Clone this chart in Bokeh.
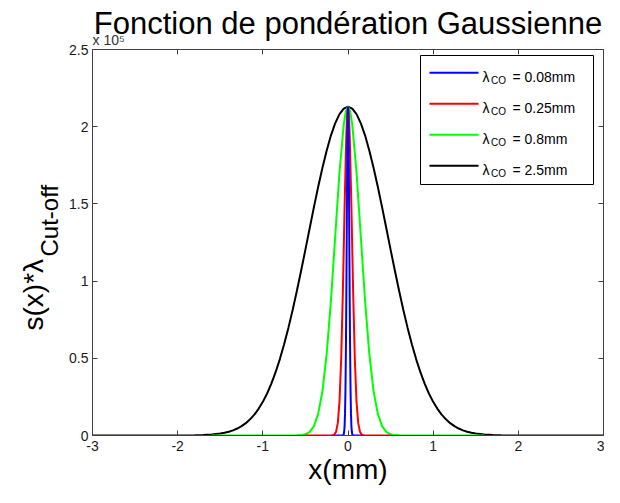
from bokeh.plotting import figure
from bokeh.models import Range1d, LinearAxis, FixedTicker, Label, BoxAnnotation, Arrow, Title
from bokeh.embed import file_html
from bokeh.resources import INLINE

FONT = "Liberation Sans"

# ---------------- texts ----------------
title_text = "Fonction de pondération Gaussienne"
x_label = "x(mm)"
y_label_main = "s(x)*λ"
y_label_sub = "Cut-off"
multiplier_text = "x 10⁵"

# ---------------- ticks ----------------
x_ticks = [-3, -2, -1, 0, 1, 2, 3]
x_tick_labels = ["-3", "-2", "-1", "0", "1", "2", "3"]
y_ticks = [0, 0.5, 1, 1.5, 2, 2.5]
y_tick_labels = ["0", "0.5", "1", "1.5", "2", "2.5"]

# ---------------- legend ----------------
legend_symbol = "λ"
legend_sub = "CO"
legend_values = ["= 0.08mm", "= 0.25mm", "= 0.8mm", "= 2.5mm"]
colors = ["#0000ff", "#ff0000", "#00ff00", "#000000"]

# ---------------- series ----------------
# lambda_c = 0.08 mm
blue_x = [-0.16, -0.06, -0.05, -0.045, -0.04, -0.035, -0.03, -0.025, -0.02, -0.015, -0.01, -0.005,
          0.0,
          0.005, 0.01, 0.015, 0.02, 0.025, 0.03, 0.035, 0.04, 0.045, 0.05, 0.06, 0.16]
blue_y = [0.0, 0.0, 0.008, 0.024, 0.061, 0.14, 0.288, 0.53, 0.875, 1.291, 1.705, 2.014,
          2.129,
          2.014, 1.705, 1.291, 0.875, 0.53, 0.288, 0.14, 0.061, 0.024, 0.008, 0.0, 0.0]

# lambda_c = 0.25 mm
red_x = [-0.5, -0.2, -0.18, -0.16, -0.14, -0.12, -0.10, -0.08, -0.06, -0.04, -0.02, -0.01,
         0.0,
         0.01, 0.02, 0.04, 0.06, 0.08, 0.10, 0.12, 0.14, 0.16, 0.18, 0.2, 0.5]
red_y = [0.0, 0.0, 0.001, 0.006, 0.025, 0.080, 0.218, 0.495, 0.938, 1.479, 1.944, 2.081,
         2.129,
         2.081, 1.944, 1.479, 0.938, 0.495, 0.218, 0.080, 0.025, 0.006, 0.001, 0.0, 0.0]

# lambda_c = 0.8 mm
green_x = [-1.6, -0.6, -0.55, -0.5, -0.45, -0.4, -0.35, -0.3, -0.25, -0.2, -0.15, -0.1, -0.05, -0.025,
           0.0,
           0.025, 0.05, 0.1, 0.15, 0.2, 0.25, 0.3, 0.35, 0.4, 0.45, 0.5, 0.55, 0.6, 1.6]
green_y = [0.0, 0.001, 0.0025, 0.008, 0.024, 0.061, 0.14, 0.288, 0.53, 0.875, 1.291, 1.705, 2.014, 2.100,
           2.129,
           2.100, 2.014, 1.705, 1.291, 0.875, 0.53, 0.288, 0.14, 0.061, 0.024, 0.008, 0.0025, 0.001, 0.0]

# lambda_c = 2.5 mm
black_x = [-3.0, -2.0, -1.9, -1.8, -1.7, -1.6, -1.5, -1.45, -1.4, -1.35, -1.3, -1.25, -1.2, -1.15,
           -1.1, -1.05, -1.0, -0.95, -0.9, -0.85, -0.8, -0.75, -0.7, -0.65, -0.6, -0.55, -0.5,
           -0.45, -0.4, -0.35, -0.3, -0.25, -0.2, -0.15, -0.1, -0.05,
           0.0,
           0.05, 0.1, 0.15, 0.2, 0.25, 0.3, 0.35, 0.4, 0.45, 0.5, 0.55, 0.6, 0.65, 0.7, 0.75,
           0.8, 0.85, 0.9, 0.95, 1.0, 1.05, 1.1, 1.15, 1.2, 1.25, 1.3, 1.35, 1.4, 1.45, 1.5,
           1.6, 1.7, 1.8, 1.9, 2.0, 3.0]
black_y = [0.0, 0.0002, 0.0006, 0.0013, 0.0029, 0.0062, 0.0126, 0.0177, 0.0245, 0.0335, 0.0453,
           0.0605, 0.080, 0.1046, 0.135, 0.173, 0.218, 0.272, 0.336, 0.410, 0.495, 0.591, 0.697,
           0.813, 0.937, 1.069, 1.204, 1.342, 1.479, 1.611, 1.734, 1.846, 1.944, 2.023, 2.081, 2.117,
           2.129,
           2.117, 2.081, 2.023, 1.944, 1.846, 1.734, 1.611, 1.479, 1.342, 1.204, 1.069, 0.937,
           0.813, 0.697, 0.591, 0.495, 0.410, 0.336, 0.272, 0.218, 0.173, 0.135, 0.1046, 0.080,
           0.0605, 0.0453, 0.0335, 0.0245, 0.0177, 0.0126, 0.0062, 0.0029, 0.0013, 0.0006, 0.0002, 0.0]

series_x = [blue_x, red_x, green_x, black_x]
series_y = [blue_y, red_y, green_y, black_y]

# ---------------- figure ----------------
p = figure(width=604, height=487,
           x_range=Range1d(-3, 3), y_range=Range1d(0, 2.5),
           output_backend="svg", toolbar_location=None,
           min_border_left=92, min_border_right=1, min_border_top=49, min_border_bottom=45,
           background_fill_color="white", border_fill_color="white")
p.outline_line_color = None
p.xgrid.visible = False
p.ygrid.visible = False

AXIS_COLOR = "#404040"

xa = p.xaxis[0]
xa.ticker = FixedTicker(ticks=x_ticks)
xa.major_label_overrides = {t: l for t, l in zip(x_ticks, x_tick_labels)}
ya = p.yaxis[0]
ya.ticker = FixedTicker(ticks=y_ticks)
ya.major_label_overrides = {t: l for t, l in zip(y_ticks, y_tick_labels)}

for ax in (xa, ya):
    ax.major_tick_in = 5
    ax.major_tick_out = 0
    ax.minor_tick_line_color = None
    ax.axis_line_color = AXIS_COLOR
    ax.major_tick_line_color = AXIS_COLOR
    ax.major_label_text_font = FONT
    ax.major_label_text_font_size = "14px"
    ax.major_label_text_color = "#1a1a1a"

xa.major_label_standoff = 5
ya.major_label_standoff = 4
xa.axis_label = x_label
xa.axis_label_text_font = FONT
xa.axis_label_text_font_size = "28px"
xa.axis_label_text_font_style = "normal"
xa.axis_label_text_color = "black"
xa.axis_label_standoff = 0

top_ax = LinearAxis(ticker=FixedTicker(ticks=x_ticks),
                    major_label_overrides={t: "" for t in x_ticks})
right_ax = LinearAxis(ticker=FixedTicker(ticks=y_ticks),
                      major_label_overrides={t: "" for t in y_ticks})
for ax in (top_ax, right_ax):
    ax.major_tick_in = 5
    ax.major_tick_out = 0
    ax.minor_tick_line_color = None
    ax.axis_line_color = AXIS_COLOR
    ax.major_tick_line_color = AXIS_COLOR
    ax.major_label_text_font_size = "1px"
    ax.major_label_standoff = 0
p.add_layout(top_ax, "above")
p.add_layout(right_ax, "right")

# exponent multiplier (just above the frame, left aligned)
p.add_layout(Title(text=multiplier_text, align="left", vertical_align="bottom", offset=0,
                   standoff=4, text_font=FONT, text_font_size="14px",
                   text_font_style="normal", text_color="#333333"), "above")

# main title (outermost, overlapping the multiplier row like the original)
p.title.text = title_text
p.title.text_font = FONT
p.title.text_font_size = "31px"
p.title.text_font_style = "normal"
p.title.text_color = "black"
p.title.align = "center"
p.title.vertical_align = "bottom"
p.title.standoff = -26

# y axis label with subscript: subscript panel next to the axis, main text outside
p.add_layout(Title(text=y_label_sub, align="left", vertical_align="top", offset=179,
                   standoff=4, text_font=FONT, text_font_size="24px",
                   text_font_style="normal", text_color="black"), "left")
p.add_layout(Title(text=y_label_main, align="left", vertical_align="bottom", offset=105,
                   standoff=-30, text_font=FONT, text_font_size="28px",
                   text_font_style="normal", text_color="black"), "left")

# curves: black drawn first, blue on top
for i in [3, 2, 1, 0]:
    p.line(series_x[i], series_y[i], line_color=colors[i], line_width=2)

# legend (manual, to allow subscripts), positioned from the frame's top-right corner
W, H = 510, 387
p.add_layout(BoxAnnotation(left=W - 182, right=W - 9, top=H - 7, bottom=H - 136,
                           left_units="screen", right_units="screen",
                           top_units="screen", bottom_units="screen",
                           fill_color="white", fill_alpha=1.0,
                           line_color="black", line_width=1, line_alpha=1.0))
row_offsets = [24.3, 55.3, 86.3, 117.3]
for i, ro in enumerate(row_offsets):
    ry = H - ro
    p.add_layout(Arrow(end=None, x_start=W - 173, y_start=ry, x_end=W - 124, y_end=ry,
                       start_units="screen", end_units="screen",
                       line_color=colors[i], line_width=2))
    p.add_layout(Label(x=W - 120, y=ry - 4.5, x_units="screen", y_units="screen", text=legend_symbol,
                       text_font=FONT, text_font_size="14px", text_color="black",
                       text_baseline="alphabetic"))
    p.add_layout(Label(x=W - 111.5, y=ry - 8, x_units="screen", y_units="screen", text=legend_sub,
                       text_font=FONT, text_font_size="10px", text_color="black",
                       text_baseline="alphabetic"))
    p.add_layout(Label(x=W - 90, y=ry - 4.5, x_units="screen", y_units="screen", text=legend_values[i],
                       text_font=FONT, text_font_size="14px", text_color="black",
                       text_baseline="alphabetic"))

open("out.html", "w").write(file_html(p, INLINE))
